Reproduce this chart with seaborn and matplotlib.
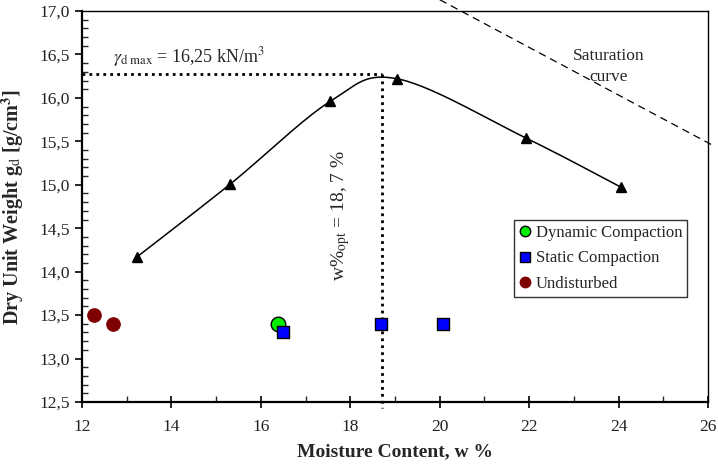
import numpy as np
import pandas as pd
import matplotlib
matplotlib.use("Agg")
import matplotlib.pyplot as plt
import seaborn as sns
from matplotlib.lines import Line2D

# compaction curve (Proctor test)
proctor_w = [13.23, 15.32, 17.55, 19.05, 21.92, 24.06]
proctor_gd = [14.17, 15.01, 15.96, 16.22, 15.54, 14.97]

# samples
dynamic_w = [16.39]
dynamic_gd = [13.40]
static_w = [16.50, 18.69, 20.08]
static_gd = [13.31, 13.40, 13.40]
undist_w = [12.27, 12.69]
undist_gd = [13.50, 13.40]

# saturation curve end points
sat_w = [20.0, 26.12]
sat_gd = [17.13, 15.45]

gd_max = 16.27
w_opt = 18.7


def smooth_line(x, y, n=30):
    # excel-like smoothed line through the points (catmull-rom)
    pts = np.column_stack([x, y])
    pts = np.vstack([pts[0], pts, pts[-1]])
    out = []
    for i in range(1, len(pts) - 2):
        p0, p1, p2, p3 = pts[i - 1], pts[i], pts[i + 1], pts[i + 2]
        for t in np.linspace(0, 1, n, endpoint=False):
            t2, t3 = t * t, t * t * t
            out.append(0.5 * ((2 * p1) + (-p0 + p2) * t
                              + (2 * p0 - 5 * p1 + 4 * p2 - p3) * t2
                              + (-p0 + 3 * p1 - 3 * p2 + p3) * t3))
    out.append(pts[-2])
    out = np.array(out)
    return out[:, 0], out[:, 1]


sns.set_style("ticks")
plt.rcParams['font.family'] = ['Liberation Serif', 'DejaVu Serif']
plt.rcParams['mathtext.fontset'] = 'stix'

fig = plt.figure(figsize=(7.18, 4.69), dpi=100)
ax = fig.add_axes([0.1142, 0.1429, 0.872, 0.8336])

sx, sy = smooth_line(proctor_w, proctor_gd)
curve = pd.DataFrame({'w': sx, 'gd': sy})
sns.lineplot(data=curve, x='w', y='gd', sort=False, color='black', lw=1.1, ax=ax)
ax.plot(proctor_w, proctor_gd, linestyle='none', marker='^', color='black', markersize=7)

# saturation line
ax.plot(sat_w, sat_gd, color='black', lw=0.9, linestyle=(0, (6, 4)), clip_on=False)

# optimum lines
ax.plot([12, w_opt], [gd_max, gd_max], color='black', lw=2, linestyle=(0, (1, 1.5)), clip_on=False)
ax.plot([w_opt, w_opt], [gd_max, 12.43], color='black', lw=2, linestyle=(0, (1, 1.5)), clip_on=False)

sns.scatterplot(x=undist_w, y=undist_gd, color='#7f0000', edgecolor='#7f0000',
                marker='o', s=95, ax=ax, zorder=5)
sns.scatterplot(x=dynamic_w, y=dynamic_gd, color='#00ee00', edgecolor='black',
                linewidth=1, marker='o', s=110, ax=ax, zorder=5)
sns.scatterplot(x=static_w, y=static_gd, color='#0000ff', edgecolor='black',
                linewidth=1, marker='s', s=75, ax=ax, zorder=6)

ax.set_xlim(12, 26)
ax.set_ylim(12.5, 17.0)
ax.set_xticks(np.arange(12, 27, 2))
ax.set_xticks(np.arange(13, 26, 2), minor=True)
ax.set_yticks(np.arange(12.5, 17.01, 0.5))
ax.set_yticks(np.arange(12.5, 17.01, 0.1), minor=True)
ax.set_yticklabels([f"{v:.1f}".replace('.', ',') for v in np.arange(12.5, 17.01, 0.5)])
ax.tick_params(axis='both', which='major', labelsize=12.5, color='black', labelcolor='#222222')
ax.tick_params(axis='y', which='major', direction='out', length=5, width=1.2)
ax.tick_params(axis='y', which='minor', direction='in', length=4, width=1)
ax.tick_params(axis='x', which='major', direction='inout', length=8, width=1.2, pad=8)
ax.tick_params(axis='x', which='minor', direction='in', length=4, width=1)
for sp in ax.spines.values():
    sp.set_visible(True)
    sp.set_color('black')
ax.spines['left'].set_linewidth(1.6)
ax.spines['bottom'].set_linewidth(1.6)
ax.spines['top'].set_linewidth(1.0)
ax.spines['right'].set_linewidth(1.0)

ax.set_xlabel("Moisture Content, w %", fontsize=14, fontweight='bold', labelpad=6)
ax.set_ylabel(r"Dry Unit Weight g$_{\rm d}$ [g/cm$^{\bf 3}$]", fontsize=14.5,
              fontweight='bold', labelpad=10)

ax.text(12.7, 16.33, r"$\gamma_{\rm d\ max}$ = 16,25 kN/m$^3$", fontsize=13,
        ha='left', va='bottom')
ax.text(17.78, 14.65, r"w%$_{\rm opt}$ = 18, 7 %", fontsize=14, rotation=90,
        ha='center', va='center')
ax.text(23.77, 16.36, "Saturation\ncurve", fontsize=12.5, ha='center', va='center',
        linespacing=1.4)

handles = [
    Line2D([], [], marker='o', linestyle='none', markerfacecolor='#00ee00',
           markeredgecolor='black', markersize=7.5),
    Line2D([], [], marker='s', linestyle='none', markerfacecolor='#0000ff',
           markeredgecolor='black', markersize=7),
    Line2D([], [], marker='o', linestyle='none', markerfacecolor='#7f0000',
           markeredgecolor='#7f0000', markersize=7.5),
]
leg = ax.legend(handles, ["Dynamic Compaction", "Static Compaction", "Undisturbed"],
                loc='upper left', bbox_to_anchor=(0.69, 0.465), fontsize=12,
                frameon=True, fancybox=False, handletextpad=0.3,
                handlelength=0.7, borderpad=0.3, borderaxespad=0,
                labelspacing=0.55)
leg.get_frame().set_edgecolor('black')
leg.get_frame().set_linewidth(1.0)

fig.savefig("out.png", dpi=100)
